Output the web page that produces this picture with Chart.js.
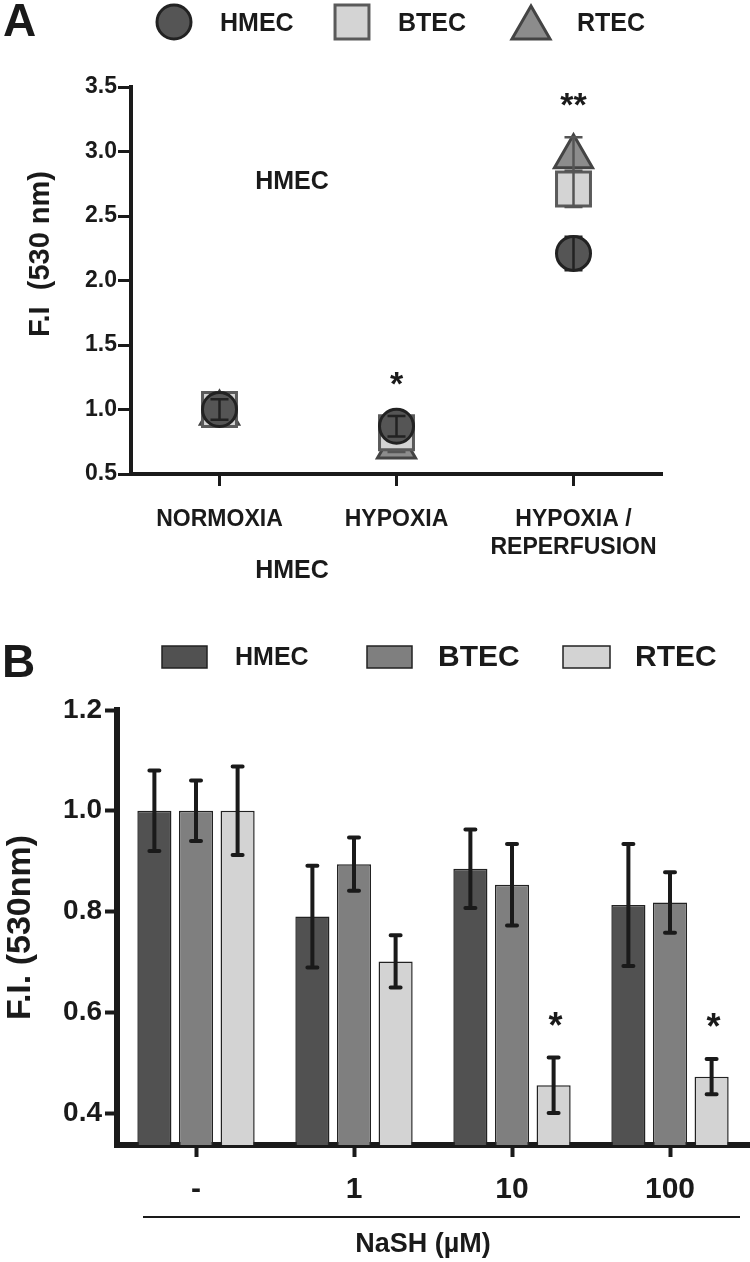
<!DOCTYPE html>
<html>
<head>
<meta charset="utf-8">
<title>F.I. (530 nm) - HMEC, BTEC, RTEC</title>
<script src="https://cdn.jsdelivr.net/npm/chart.js"></script>
<style>
    body { margin: 0; background: #ffffff; }
    #wrap { position: relative; width: 750px; height: 1262px; }
    canvas { position: absolute; left: 0; }
    #chartA { top: 0; }
    #chartB { top: 600px; }
</style>
</head>
<body>
<div id="wrap">
    <canvas id="chartA" width="750" height="600"></canvas>
    <canvas id="chartB" width="750" height="662"></canvas>
</div>
<script>
// Panel A data
const conditionsA = ['NORMOXIA', 'HYPOXIA', ['HYPOXIA /', 'REPERFUSION']];
const hmecA = [1.00, 0.87, 2.21];
const btecA = [1.00, 0.82, 2.71];
const rtecA = [0.97, 0.71, 2.96];
const hmecErrA = [0.08, 0.08, 0.13];
const btecErrA = [0.05, 0.05, 0.14];
const rtecErrA = [0.04, 0.04, 0.15];
const starsA = ['', '*', '**'];
const yTicksA = [0.5, 1.0, 1.5, 2.0, 2.5, 3.0, 3.5];

// Panel B data
const dosesB = ['-', '1', '10', '100'];
const hmecB = [1.00, 0.79, 0.885, 0.813];
const btecB = [1.00, 0.894, 0.853, 0.818];
const rtecB = [1.00, 0.701, 0.455, 0.472];
const hmecErrB = [0.080, 0.101, 0.078, 0.121];
const btecErrB = [0.060, 0.053, 0.081, 0.060];
const rtecErrB = [0.088, 0.052, 0.055, 0.035];
const starsB = ['', '', '*', '*'];
const yTicksB = [0.4, 0.6, 0.8, 1.0, 1.2];

const INK = '#1a1a1a';
const FONT = "'Liberation Sans', Arial, sans-serif";

function drawText(ctx, text, x, y, size, align, baseline) {
    ctx.font = 'bold ' + size + 'px ' + FONT;
    ctx.textAlign = align || 'center';
    ctx.textBaseline = baseline || 'middle';
    ctx.fillText(text, x, y);
}

// error bars, drawn right after each dataset
const errorBars = {
    id: 'errorBars',
    afterDatasetDraw(chart, args) {
        const ds = chart.data.datasets[args.index];
        if (!ds.errors) return;
        const ctx = chart.ctx;
        const yScale = chart.scales.y;
        const half = ds.capWidth / 2;
        ctx.save();
        ctx.strokeStyle = ds.errColor;
        ctx.lineWidth = ds.errWidth;
        ctx.lineCap = ds.errCap || 'butt';
        args.meta.data.forEach(function(el, i) {
            const top = yScale.getPixelForValue(ds.data[i] + ds.errors[i]);
            const bottom = yScale.getPixelForValue(ds.data[i] - ds.errors[i]);
            ctx.beginPath();
            ctx.moveTo(el.x, top);
            ctx.lineTo(el.x, bottom);
            ctx.moveTo(el.x - half, top);
            ctx.lineTo(el.x + half, top);
            ctx.moveTo(el.x - half, bottom);
            ctx.lineTo(el.x + half, bottom);
            ctx.stroke();
        });
        ctx.restore();
    }
};

// panel A: letter, legend, notes, asterisks, y title
const extrasA = {
    id: 'extrasA',
    afterDraw(chart) {
        const ctx = chart.ctx;
        const yScale = chart.scales.y;
        const xScale = chart.scales.x;
        ctx.save();
        ctx.fillStyle = INK;
        drawText(ctx, 'A', 3, 36, 46, 'left', 'alphabetic');

        const markX = [174, 352, 531];
        const markY = [22, 22, 28];
        const textX = [220, 398, 577];
        chart.data.datasets.forEach(function(ds, i) {
            ctx.fillStyle = ds.pointBackgroundColor;
            ctx.strokeStyle = ds.pointBorderColor;
            ctx.lineWidth = ds.pointBorderWidth;
            Chart.helpers.drawPoint(ctx, {
                pointStyle: ds.pointStyle,
                radius: ds.pointRadius,
                rotation: 0,
                borderWidth: ds.pointBorderWidth
            }, markX[i], markY[i]);
            ctx.fillStyle = INK;
            drawText(ctx, ds.label, textX[i], 24, 25, 'left');
        });

        drawText(ctx, 'HMEC', 292, 182, 25);
        drawText(ctx, 'HMEC', 292, 571, 25);

        // asterisks above the highest error bar of each condition
        starsA.forEach(function(s, i) {
            if (!s) return;
            const tops = chart.data.datasets.map(ds => ds.data[i] + ds.errors[i]);
            const y = yScale.getPixelForValue(Math.max.apply(null, tops)) - 40;
            drawText(ctx, s, xScale.getPixelForValue(i), y + 19, 34, 'center', 'alphabetic');
        });

        ctx.translate(41, 254);
        ctx.rotate(-Math.PI / 2);
        drawText(ctx, 'F.I  (530 nm)', 0, 0, 29);
        ctx.restore();
    }
};

// panel B: letter, legend, asterisks, x title
const extrasB = {
    id: 'extrasB',
    afterDraw(chart) {
        const ctx = chart.ctx;
        const yScale = chart.scales.y;
        ctx.save();
        ctx.fillStyle = INK;
        drawText(ctx, 'B', 2, 77, 46, 'left', 'alphabetic');

        const boxX = [162, 367, 563];
        const boxW = [45, 45, 47];
        const textX = [235, 438, 635];
        const textSize = [25, 30, 30];
        chart.data.datasets.forEach(function(ds, i) {
            ctx.fillStyle = ds.backgroundColor;
            ctx.fillRect(boxX[i], 46, boxW[i], 22);
            ctx.strokeStyle = ds.borderColor;
            ctx.lineWidth = 1.5;
            ctx.strokeRect(boxX[i], 46, boxW[i], 22);
            ctx.fillStyle = INK;
            drawText(ctx, ds.label, textX[i], 58, textSize[i], 'left');
        });

        // asterisks over RTEC bars
        const rtecMeta = chart.getDatasetMeta(2);
        starsB.forEach(function(s, i) {
            if (!s) return;
            const y = yScale.getPixelForValue(rtecB[i] + rtecErrB[i]) - 41;
            drawText(ctx, s, rtecMeta.data[i].x + 2, y + 21, 36, 'center', 'alphabetic');
        });

        ctx.strokeStyle = INK;
        ctx.lineWidth = 2;
        ctx.beginPath();
        ctx.moveTo(143, 617);
        ctx.lineTo(740, 617);
        ctx.stroke();
        drawText(ctx, 'NaSH (\u00b5M)', 423, 645, 27);
        ctx.restore();
    }
};

// Panel A chart
const ctxA = document.getElementById('chartA').getContext('2d');
const chartA = new Chart(ctxA, {
    type: 'line',
    data: {
        labels: conditionsA,
        datasets: [{
            label: 'HMEC',
            data: hmecA,
            errors: hmecErrA,
            showLine: false,
            pointStyle: 'circle',
            pointRadius: 17,
            pointBackgroundColor: '#555555',
            pointBorderColor: '#222222',
            pointBorderWidth: 3,
            errColor: '#222222',
            errWidth: 2.5,
            capWidth: 18
        }, {
            label: 'BTEC',
            data: btecA,
            errors: btecErrA,
            showLine: false,
            pointStyle: 'rect',
            pointRadius: 24,
            pointBackgroundColor: '#d4d4d4',
            pointBorderColor: '#5a5a5a',
            pointBorderWidth: 3,
            errColor: '#555555',
            errWidth: 2.5,
            capWidth: 18
        }, {
            label: 'RTEC',
            data: rtecA,
            errors: rtecErrA,
            showLine: false,
            pointStyle: 'triangle',
            pointRadius: 22,
            pointBackgroundColor: '#8c8c8c',
            pointBorderColor: '#444444',
            pointBorderWidth: 3,
            errColor: '#555555',
            errWidth: 2.5,
            capWidth: 18
        }]
    },
    options: {
        responsive: false,
        animation: false,
        events: [],
        layout: { padding: { top: 87, right: 88, left: 0, bottom: 0 } },
        plugins: { legend: { display: false }, tooltip: { enabled: false } },
        scales: {
            x: {
                offset: true,
                grid: { offset: false, drawOnChartArea: false, tickLength: 12, tickWidth: 3, tickColor: INK },
                border: { width: 4, color: INK },
                ticks: { font: { family: FONT, size: 23, weight: 'bold' }, color: INK, padding: 20, maxRotation: 0 },
                afterFit: function(s) { s.height = 126; }
            },
            y: {
                min: 0.5,
                max: 3.5,
                afterBuildTicks: function(s) { s.ticks = yTicksA.map(v => ({ value: v })); },
                grid: { drawOnChartArea: false, tickLength: 13, tickWidth: 3, tickColor: INK },
                border: { width: 4, color: INK },
                ticks: { font: { family: FONT, size: 23, weight: 'bold' }, color: INK, padding: 1,
                         callback: v => v.toFixed(1) },
                afterFit: function(s) { s.width = 131; }
            }
        }
    },
    plugins: [errorBars, extrasA]
});

// Panel B chart
const ctxB = document.getElementById('chartB').getContext('2d');
const chartB = new Chart(ctxB, {
    type: 'bar',
    data: {
        labels: dosesB,
        datasets: [{
            label: 'HMEC',
            data: hmecB,
            errors: hmecErrB,
            backgroundColor: '#515151',
            borderColor: '#222222',
            borderWidth: 1.5,
            categoryPercentage: 0.79,
            barPercentage: 0.82,
            errColor: INK,
            errWidth: 4,
            errCap: 'round',
            capWidth: 10
        }, {
            label: 'BTEC',
            data: btecB,
            errors: btecErrB,
            backgroundColor: '#7f7f7f',
            borderColor: '#222222',
            borderWidth: 1.5,
            categoryPercentage: 0.79,
            barPercentage: 0.82,
            errColor: INK,
            errWidth: 4,
            errCap: 'round',
            capWidth: 10
        }, {
            label: 'RTEC',
            data: rtecB,
            errors: rtecErrB,
            backgroundColor: '#d3d3d3',
            borderColor: '#222222',
            borderWidth: 1.5,
            categoryPercentage: 0.79,
            barPercentage: 0.82,
            errColor: INK,
            errWidth: 4,
            errCap: 'round',
            capWidth: 10
        }]
    },
    options: {
        responsive: false,
        animation: false,
        events: [],
        layout: { padding: { top: 110, right: 1, left: 0, bottom: 0 } },
        plugins: { legend: { display: false }, tooltip: { enabled: false } },
        scales: {
            x: {
                grid: { offset: false, drawOnChartArea: false, tickLength: 12, tickWidth: 4, tickColor: INK },
                border: { width: 6, color: INK },
                ticks: { font: { family: FONT, size: 30, weight: 'bold' }, color: INK, padding: 15, maxRotation: 0 },
                afterFit: function(s) { s.height = 117; }
            },
            y: {
                min: 0.3365,
                max: 1.2,
                afterBuildTicks: function(s) { s.ticks = yTicksB.map(v => ({ value: v })); },
                grid: { drawOnChartArea: false, tickLength: 12, tickWidth: 4, tickColor: INK },
                border: { width: 6, color: INK },
                ticks: { font: { family: FONT, size: 28, weight: 'bold' }, color: INK, padding: 3,
                         callback: v => v.toFixed(1) },
                title: { display: true, text: 'F.I. (530nm)', color: INK, padding: 0,
                         font: { family: FONT, size: 34, weight: 'bold' } },
                afterFit: function(s) { s.width = 117; }
            }
        }
    },
    plugins: [errorBars, extrasB]
});
</script>
</body>
</html>
